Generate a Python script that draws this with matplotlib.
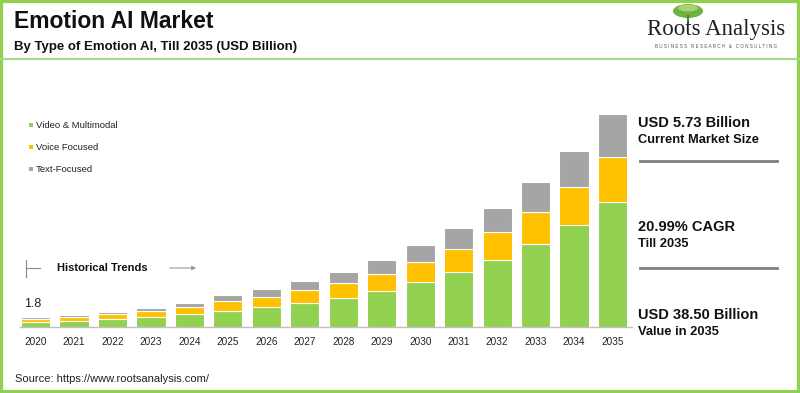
import matplotlib
matplotlib.use("Agg")
import matplotlib.pyplot as plt
import numpy as np
from matplotlib.patches import Rectangle, Ellipse, FancyArrowPatch
from matplotlib.lines import Line2D

plt.rcParams["font.family"] = ["Liberation Sans", "DejaVu Sans"]

years = ["2020", "2021", "2022", "2023", "2024", "2025", "2026", "2027",
         "2028", "2029", "2030", "2031", "2032", "2033", "2034", "2035"]
video_multimodal = [0.95, 1.00, 1.45, 1.81, 2.28, 2.90, 3.62, 4.34,
                    5.32, 6.59, 8.09, 9.90, 12.20, 14.97, 18.46, 22.70]
voice_focused = [0.50, 0.80, 0.96, 1.00, 1.34, 1.74, 1.87, 2.35,
                 2.64, 3.08, 3.62, 4.29, 5.07, 5.92, 6.95, 8.14]
text_focused = [0.35, 0.30, 0.36, 0.67, 0.78, 1.09, 1.45, 1.63,
                1.99, 2.41, 3.08, 3.67, 4.34, 5.36, 6.39, 7.66]
series_names = ["Video & Multimodal", "Voice Focused", "Text-Focused"]
colors = ["#92D050", "#FFC000", "#A5A5A5"]
first_label = "1.8"

W, H = 800, 393
fig = plt.figure(figsize=(8, 3.93), dpi=100)
fig.patch.set_facecolor("white")

def fx(px):
    return px / W

def fy(py):
    return 1 - py / H

# Border
fig.add_artist(Rectangle((0.0015, 0.003), 0.997, 0.994, transform=fig.transFigure,
                         fill=False, edgecolor="#92D050", linewidth=3))
# divider line under subtitle
fig.add_artist(Line2D([0, 1], [fy(59), fy(59)], transform=fig.transFigure,
                      color="#A9D98A", linewidth=1.5))

# Title
fig.text(fx(14), fy(22), "Emotion AI Market", fontsize=16.5, fontweight="bold",
         color="#111111", va="center", ha="left")
fig.text(fx(14), fy(47), "By Type of Emotion AI, Till 2035 (USD Billion)", fontsize=9.5,
         fontweight="bold", color="#111111", va="center", ha="left")

# Logo
fig.add_artist(Ellipse((fx(688), fy(11)), 30 / W, 14 / H, transform=fig.transFigure,
                       facecolor="#6DB33F", edgecolor="none"))
fig.add_artist(Ellipse((fx(688), fy(8)), 20 / W, 7 / H, transform=fig.transFigure,
                       facecolor="#A8D46F", edgecolor="none"))
fig.add_artist(Line2D([fx(688), fx(688)], [fy(16), fy(22)], transform=fig.transFigure,
                      color="#4E7F2C", linewidth=1.5))
fig.text(fx(716), fy(29), "Roots Analysis", fontsize=16.5, family="Liberation Serif",
         color="#222222", ha="center", va="center")
fig.text(fx(716), fy(46), "B U S I N E S S   R E S E A R C H   &   C O N S U L T I N G",
         fontsize=3.3, color="#555555", ha="center", va="center")

# Axes
ax_left, ax_right, base_y, top_y = 20, 632, 327, 100
ax = fig.add_axes([fx(ax_left), fy(base_y), (ax_right - ax_left) / W, (base_y - top_y) / H])
x = np.arange(len(years))
px_per_cat = 38.47
c0 = 35.5
ax.set_xlim((ax_left - c0) / px_per_cat, (ax_right - c0) / px_per_cat)
ax.set_ylim(0, (base_y - top_y) / 5.525)

bottom = np.zeros(len(years))
for vals, col, name in zip([video_multimodal, voice_focused, text_focused], colors, series_names):
    ax.bar(x, vals, width=0.76, bottom=bottom, color=col, edgecolor="white",
           linewidth=0.8, label=name, zorder=2)
    bottom += np.array(vals)

ax.text(x[0] - 0.07, bottom[0] + 1.3, first_label, fontsize=9, ha="center", va="bottom",
        color="#222222")

for s in ["top", "right", "left"]:
    ax.spines[s].set_visible(False)
ax.spines["bottom"].set_color("#BFBFBF")
ax.spines["bottom"].set_linewidth(1)
ax.set_yticks([])
ax.set_xticks(x)
ax.set_xticklabels(years, fontsize=7.2, color="#222222",
                   family=["Liberation Sans Narrow", "Liberation Sans"])
ax.tick_params(axis="x", length=0, pad=7)

# Legend
leg_y = [125, 147, 169]
for name, col, yy in zip(series_names, colors, leg_y):
    fig.add_artist(Rectangle((fx(29), fy(yy + 2)), 4 / W, 4 / H, transform=fig.transFigure,
                             facecolor=col, edgecolor="none"))
    fig.text(fx(36), fy(yy), name, fontsize=6.8, color="#222222", va="center", ha="left")

# Historical trends
fig.add_artist(Line2D([fx(26), fx(26)], [fy(260), fy(277)], transform=fig.transFigure,
                      color="#888888", linewidth=0.8))
fig.add_artist(Line2D([fx(26), fx(40)], [fy(268), fy(268)], transform=fig.transFigure,
                      color="#888888", linewidth=0.8))
fig.text(fx(57), fy(268), "Historical Trends", fontsize=8, fontweight="bold",
         color="#111111", va="center", ha="left")
fig.add_artist(FancyArrowPatch((fx(167), fy(268)), (fx(199), fy(268)),
               transform=fig.transFigure, arrowstyle="-|>", mutation_scale=6,
               color="#999999", linewidth=0.8))

# Right panel
def panel(y1, big, small):
    fig.text(fx(638), fy(y1), big, fontsize=10.5, fontweight="bold", color="#111111",
             va="center", ha="left")
    fig.text(fx(638), fy(y1 + 17), small, fontsize=9.3, fontweight="bold", color="#111111",
             va="center", ha="left")

panel(123, "USD 5.73 Billion", "Current Market Size")
panel(227, "20.99% CAGR", "Till 2035")
panel(315, "USD 38.50 Billion", "Value in 2035")
for yy in [161, 268]:
    fig.add_artist(Line2D([fx(640), fx(777)], [fy(yy), fy(yy)], transform=fig.transFigure,
                          color="#7F7F7F", linewidth=2))

# Source
fig.text(fx(15), fy(379), "Source: https://www.rootsanalysis.com/", fontsize=8,
         color="#222222", va="center", ha="left")

fig.savefig("out.png", dpi=100)
